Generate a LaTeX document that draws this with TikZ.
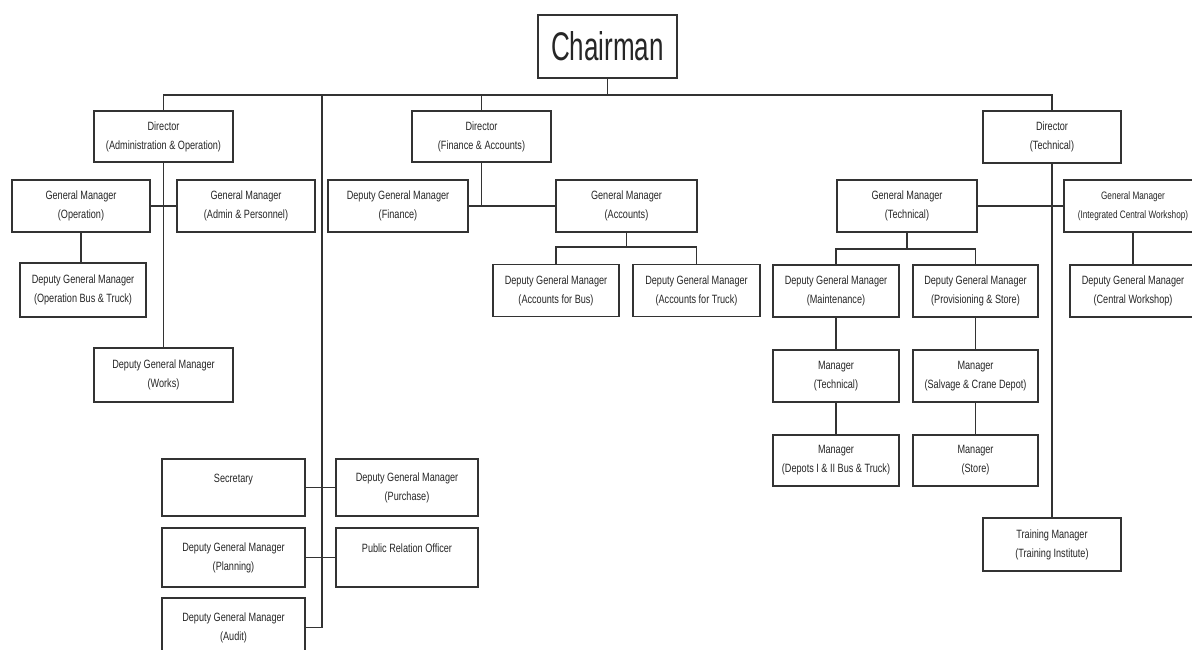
\documentclass[tikz,border=0pt]{standalone}
\usepackage{fontspec}
\setmainfont{Liberation Sans}
\newfontfamily\boxfont[FakeStretch=0.76]{Liberation Sans}
\newfontfamily\chairfont[FakeStretch=0.65]{Liberation Sans}
\begin{document}
\begin{tikzpicture}[x=1pt,y=-1pt,
  box/.style={draw=black!80, line width=1.5pt, fill=white, align=center, inner sep=0pt,
              text=black!85, font=\boxfont\fontsize{12}{19}\selectfont},
  link/.style={draw=black!80, line width=1.5pt}]
\useasboundingbox (0,0) rectangle (1192,650);
\fill[white] (0,0) rectangle (1192,650);
\clip (0,0) rectangle (1192,650);

% Chairman
\node[box, minimum width=139pt, minimum height=63pt, font=\chairfont\fontsize{40}{40}\selectfont] (chair) at (607.5,46.5) {Chairman};

% Directors
\node[box, minimum width=139pt, minimum height=51pt] (dirA) at (163.5,136.5) {Director\\(Administration \& Operation)};
\node[box, minimum width=139pt, minimum height=51pt] (dirF) at (481.5,136.5) {Director\\(Finance \& Accounts)};
\node[box, minimum width=138pt, minimum height=52pt] (dirT) at (1052,137) {Director\\(Technical)};

% Admin & Operation branch
\node[box, minimum width=138pt, minimum height=52pt] (gmop) at (81,206) {General Manager\\(Operation)};
\node[box, minimum width=138pt, minimum height=52pt] (gmadm) at (246,206) {General Manager\\(Admin \& Personnel)};
\node[box, minimum width=126pt, minimum height=54pt] (opbt) at (83,290) {Deputy General Manager\\(Operation Bus \& Truck)};
\node[box, minimum width=139pt, minimum height=54pt] (works) at (163.5,375) {Deputy General Manager\\(Works)};

% Finance branch
\node[box, minimum width=140pt, minimum height=52pt] (dgmfin) at (398,206) {Deputy General Manager\\(Finance)};
\node[box, minimum width=141pt, minimum height=52pt] (gmacc) at (626.5,206) {General Manager\\(Accounts)};
\node[box, minimum width=126pt, minimum height=52pt] (accbus) at (556,290.5) {Deputy General Manager\\(Accounts for Bus)};
\node[box, minimum width=127pt, minimum height=52pt] (acctr) at (696.5,290.5) {Deputy General Manager\\(Accounts for Truck)};

% Technical branch
\node[box, minimum width=140pt, minimum height=52pt] (gmtech) at (907,206) {General Manager\\(Technical)};
\node[box, minimum width=138pt, minimum height=52pt, font=\boxfont\fontsize{10.8}{19}\selectfont] (gmicw) at (1133,206) {General Manager\\(Integrated Central Workshop)};
\node[box, minimum width=126pt, minimum height=52pt] (maint) at (836,291) {Deputy General Manager\\(Maintenance)};
\node[box, minimum width=125pt, minimum height=52pt] (prov) at (975.5,291) {Deputy General Manager\\(Provisioning \& Store)};
\node[box, minimum width=126pt, minimum height=52pt] (cw) at (1133,291) {Deputy General Manager\\(Central Workshop)};
\node[box, minimum width=126pt, minimum height=52pt] (mtech) at (836,376) {Manager\\(Technical)};
\node[box, minimum width=125pt, minimum height=52pt] (msalv) at (975.5,376) {Manager\\(Salvage \& Crane Depot)};
\node[box, minimum width=126pt, minimum height=51pt] (mdep) at (836,460.5) {Manager\\(Depots I \& II Bus \& Truck)};
\node[box, minimum width=125pt, minimum height=51pt] (mstore) at (975.5,460.5) {Manager\\(Store)};
\node[box, minimum width=138pt, minimum height=53pt] (train) at (1052,544.5) {Training Manager\\(Training Institute)};

% Staff
\node[box, minimum width=143pt, minimum height=57pt] (sec) at (233.5,487.5) {Secretary\\~};
\node[box, minimum width=142pt, minimum height=57pt] (pur) at (407,487.5) {Deputy General Manager\\(Purchase)};
\node[box, minimum width=143pt, minimum height=59pt] (plan) at (233.5,557.5) {Deputy General Manager\\(Planning)};
\node[box, minimum width=142pt, minimum height=59pt] (pro) at (407,557.5) {Public Relation Officer\\~};
\node[box, minimum width=143pt, minimum height=59pt] (audit) at (233.5,627.5) {Deputy General Manager\\(Audit)};

% Connectors
\coordinate (bus) at (0,95);
\coordinate (staff) at (322,95);
\coordinate (accbar) at (0,247);
\coordinate (techbar) at (0,249);

\draw[link] (chair.south) -- (chair.south |- bus);
\draw[link] (dirA.north) -- (dirA.north |- bus) -- (dirT.north |- bus) -- (dirT.north);
\draw[link] (dirF.north) -- (dirF.north |- bus);
\draw[link] (staff) -- (staff |- audit.east) -- (audit.east);
\draw[link] (sec.east) -- (pur.west);
\draw[link] (plan.east) -- (pro.west);

\draw[link] (dirA.south) -- (works.north);
\draw[link] (gmop.east) -- (gmadm.west);
\draw[link] (gmop.south) -- (gmop.south |- opbt.north);

\draw[link] (dirF.south) -- (dirF.south |- dgmfin.east);
\draw[link] (dgmfin.east) -- (gmacc.west);
\draw[link] (gmacc.south) -- (gmacc.south |- accbar);
\draw[link] (accbus.north) -- (accbus.north |- accbar) -- (acctr.north |- accbar) -- (acctr.north);

\draw[link] (dirT.south) -- (train.north);
\draw[link] (gmtech.east) -- (gmicw.west);
\draw[link] (gmtech.south) -- (gmtech.south |- techbar);
\draw[link] (maint.north) -- (maint.north |- techbar) -- (prov.north |- techbar) -- (prov.north);
\draw[link] (gmicw.south) -- (cw.north);
\draw[link] (maint.south) -- (mtech.north);
\draw[link] (mtech.south) -- (mdep.north);
\draw[link] (prov.south) -- (msalv.north);
\draw[link] (msalv.south) -- (mstore.north);
\end{tikzpicture}
\end{document}
